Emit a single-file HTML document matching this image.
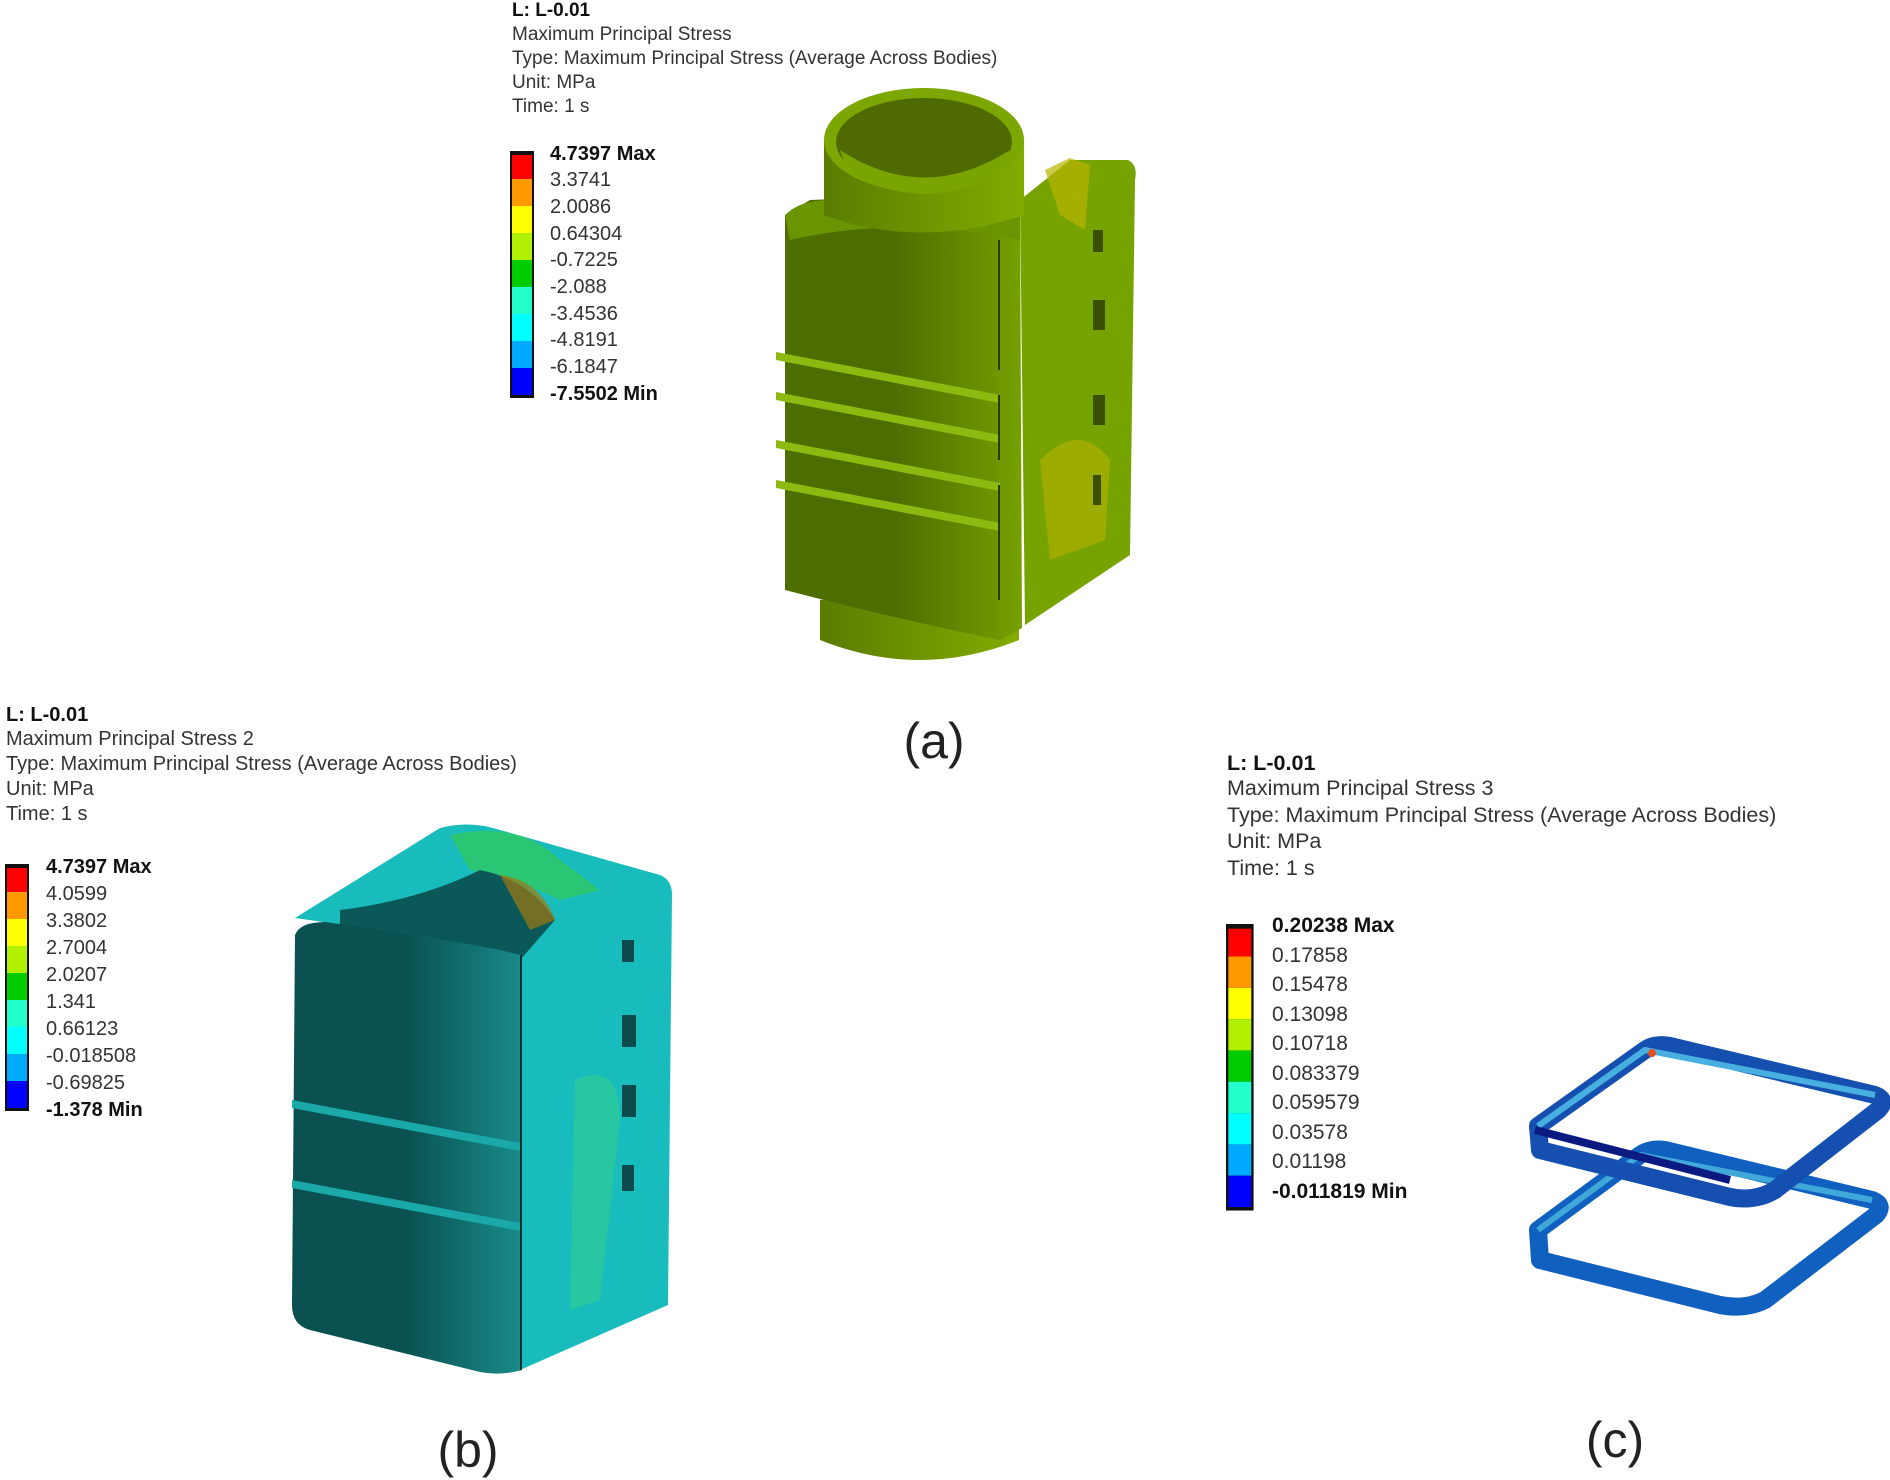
<!DOCTYPE html>
<html><head><meta charset="utf-8"><style>
html,body{margin:0;padding:0;background:#fff;}
svg{display:block;}
text{font-family:"Liberation Sans",sans-serif;fill:#333;}
.ta{font-size:19px;}
.tb{font-size:20px;}
.tc{font-size:21.5px;}
.b{font-weight:bold;fill:#111;}
.lab{font-size:50px;fill:#222;}
</style></head><body>
<svg width="1890" height="1480" viewBox="0 0 1890 1480" xmlns="http://www.w3.org/2000/svg">
<defs>
<linearGradient id="ga" x1="0" x2="1"><stop offset="0" stop-color="#4f6e00"/><stop offset="0.45" stop-color="#4e6c00"/><stop offset="1" stop-color="#76a000"/></linearGradient>
<linearGradient id="gb" x1="0" x2="1"><stop offset="0" stop-color="#0a5050"/><stop offset="0.5" stop-color="#0a5252"/><stop offset="1" stop-color="#1a8a8a"/></linearGradient>
<linearGradient id="gc" x1="0" x2="1"><stop offset="0" stop-color="#5a7c00"/><stop offset="1" stop-color="#82ac00"/></linearGradient>
<g id="bar">
<rect x="0" y="0" width="24" height="247" fill="#111"/>
<rect x="2" y="4" width="20" height="24" fill="#f00"/>
<rect x="2" y="28" width="20" height="27" fill="#f90"/>
<rect x="2" y="55" width="20" height="27" fill="#ff0"/>
<rect x="2" y="82" width="20" height="27" fill="#b0f000"/>
<rect x="2" y="109" width="20" height="27" fill="#0c0"/>
<rect x="2" y="136" width="20" height="27" fill="#2fc"/>
<rect x="2" y="163" width="20" height="27" fill="#0ff"/>
<rect x="2" y="190" width="20" height="27" fill="#0af"/>
<rect x="2" y="217" width="20" height="27" fill="#00f"/>
</g>
</defs>

<!-- (a) text -->
<g class="ta">
<text x="512" y="16" class="b">L: L-0.01</text>
<text x="512" y="40">Maximum Principal Stress</text>
<text x="512" y="64">Type: Maximum Principal Stress (Average Across Bodies)</text>
<text x="512" y="88">Unit: MPa</text>
<text x="512" y="112">Time: 1 s</text>
</g>
<use href="#bar" x="510" y="151"/>
<g style="font-size:20px">
<text x="550" y="160" class="b">4.7397 Max</text>
<text x="550" y="186">3.3741</text>
<text x="550" y="213">2.0086</text>
<text x="550" y="240">0.64304</text>
<text x="550" y="266">-0.7225</text>
<text x="550" y="293">-2.088</text>
<text x="550" y="320">-3.4536</text>
<text x="550" y="346">-4.8191</text>
<text x="550" y="373">-6.1847</text>
<text x="550" y="400" class="b">-7.5502 Min</text>
</g>
<!-- (a) object -->
<path d="M1020,200 L1070,160 L1128,160 Q1138,165 1135,180 L1130,555 L1025,625 Z" fill="#76a300"/>
<path d="M1045,170 L1070,158 L1090,165 L1085,230 L1060,215 Z" fill="#b8b300" opacity="0.7"/>
<path d="M1040,460 Q1080,420 1110,460 L1105,540 L1050,560 Z" fill="#b8b300" opacity="0.6"/>
<rect x="1093" y="230" width="10" height="22" fill="#3a5000"/>
<rect x="1093" y="300" width="12" height="30" fill="#3a5000"/>
<rect x="1093" y="395" width="12" height="30" fill="#3a5000"/>
<rect x="1093" y="475" width="8" height="30" fill="#3a5000"/>
<path d="M820,600 L820,640 Q920,680 1019,640 L1019,590 Z" fill="url(#gc)"/>
<path d="M785,215 L810,200 Q900,195 1000,210 L1020,210 L1022,628 L1000,640 Q900,620 785,590 Z" fill="url(#ga)"/>
<path d="M785,215 Q800,200 830,200 L1020,210 L1020,240 Q900,215 790,240 Z" fill="#6a9400"/>
<path d="M824,140 L824,215 Q920,250 1024,215 L1024,140 Z" fill="url(#gc)"/>
<ellipse cx="924" cy="140" rx="100" ry="52" fill="#7ca600"/>
<ellipse cx="924" cy="142" rx="88" ry="44" fill="#4e6a00"/>
<path d="M840,150 Q924,205 1010,150 Q1000,190 924,194 Q850,190 840,150 Z" fill="#7aa400"/>
<path d="M776,352 L1000,395 L1000,403 L776,360 Z" fill="#8cba10"/>
<path d="M776,392 L1000,435 L1000,443 L776,400 Z" fill="#8cba10"/>
<path d="M776,440 L1000,483 L1000,491 L776,448 Z" fill="#8cba10"/>
<path d="M776,480 L1000,523 L1000,531 L776,488 Z" fill="#8cba10"/>
<line x1="999" y1="240" x2="999" y2="370" stroke="#2a3a00" stroke-width="2"/>
<line x1="999" y1="395" x2="999" y2="460" stroke="#2a3a00" stroke-width="2"/>
<line x1="999" y1="485" x2="999" y2="600" stroke="#2a3a00" stroke-width="2"/>
<text x="934" y="758" class="lab" text-anchor="middle">(a)</text>

<!-- (b) text -->
<g class="tb">
<text x="6" y="721" class="b">L: L-0.01</text>
<text x="6" y="745">Maximum Principal Stress 2</text>
<text x="6" y="770">Type: Maximum Principal Stress (Average Across Bodies)</text>
<text x="6" y="795">Unit: MPa</text>
<text x="6" y="820">Time: 1 s</text>
</g>
<use href="#bar" x="5" y="864"/>
<g style="font-size:20px">
<text x="46" y="873" class="b">4.7397 Max</text>
<text x="46" y="900">4.0599</text>
<text x="46" y="927">3.3802</text>
<text x="46" y="954">2.7004</text>
<text x="46" y="981">2.0207</text>
<text x="46" y="1008">1.341</text>
<text x="46" y="1035">0.66123</text>
<text x="46" y="1062">-0.018508</text>
<text x="46" y="1089">-0.69825</text>
<text x="46" y="1116" class="b">-1.378 Min</text>
</g>
<!-- (b) object -->
<path d="M295,918 L440,828 Q470,820 500,830 L660,875 Q672,880 672,895 L668,1305 L520,1370 L520,950 Z" fill="#19bcbc"/>
<path d="M450,835 Q520,820 560,860 L600,890 L560,900 Q520,880 470,870 Z" fill="#2fc860" opacity="0.8"/>
<path d="M575,1080 Q620,1060 620,1120 L600,1300 L570,1310 Z" fill="#2fcf90" opacity="0.6"/>
<path d="M340,910 Q420,900 480,870 Q530,880 555,920 L520,960 Q420,940 340,935 Z" fill="#0b5858"/>
<path d="M500,875 Q540,880 555,920 L530,930 Z" fill="#a07a10" opacity="0.7"/>
<rect x="622" y="940" width="12" height="22" fill="#0b4a4a"/>
<rect x="622" y="1015" width="14" height="32" fill="#0b4a4a"/>
<rect x="622" y="1085" width="14" height="32" fill="#0b4a4a"/>
<rect x="622" y="1165" width="12" height="26" fill="#0b4a4a"/>
<path d="M295,935 Q300,922 325,922 Q420,935 500,950 L520,955 L522,1370 Q500,1376 480,1372 L310,1330 Q292,1325 292,1305 Z" fill="url(#gb)"/>
<path d="M292,1100 L520,1143 L520,1151 L292,1108 Z" fill="#1aa8a8"/>
<path d="M292,1180 L520,1223 L520,1231 L292,1188 Z" fill="#1aa8a8"/>
<line x1="521" y1="955" x2="521" y2="1370" stroke="#053030" stroke-width="2"/>
<text x="468" y="1467" class="lab" text-anchor="middle">(b)</text>

<!-- (c) text -->
<g class="tc">
<text x="1227" y="770" class="b">L: L-0.01</text>
<text x="1227" y="795">Maximum Principal Stress 3</text>
<text x="1227" y="822">Type: Maximum Principal Stress (Average Across Bodies)</text>
<text x="1227" y="848">Unit: MPa</text>
<text x="1227" y="875">Time: 1 s</text>
</g>
<g transform="translate(1226,924) scale(1.15,1.16)"><use href="#bar" x="0" y="0"/></g>
<g style="font-size:21px">
<text x="1272" y="932" class="b">0.20238 Max</text>
<text x="1272" y="962">0.17858</text>
<text x="1272" y="991">0.15478</text>
<text x="1272" y="1021">0.13098</text>
<text x="1272" y="1050">0.10718</text>
<text x="1272" y="1080">0.083379</text>
<text x="1272" y="1109">0.059579</text>
<text x="1272" y="1139">0.03578</text>
<text x="1272" y="1168">0.01198</text>
<text x="1272" y="1198" class="b">-0.011819 Min</text>
</g>
<!-- (c) rings -->
<g fill="none" stroke-linejoin="round">
<path d="M1538,1230 L1640,1155 Q1650,1148 1665,1150 L1872,1200 Q1885,1205 1876,1215 L1765,1300 Q1745,1310 1720,1305 L1540,1260 Z" stroke="#1060c0" stroke-width="18"/>
<path d="M1538,1230 L1640,1155 L1872,1200" stroke="#40a8d8" stroke-width="6"/>
<path d="M1538,1126 L1645,1050 Q1655,1043 1670,1046 L1875,1095 Q1888,1100 1878,1110 L1775,1190 Q1755,1202 1730,1197 L1540,1150 Z" stroke="#1550b0" stroke-width="18"/>
<path d="M1538,1126 L1645,1050 L1875,1095" stroke="#48b0e0" stroke-width="6"/>
<path d="M1535,1130 L1730,1180" stroke="#0a1a80" stroke-width="8"/>
</g>
<circle cx="1652" cy="1053" r="4" fill="#e05020"/>
<text x="1615" y="1457" class="lab" text-anchor="middle">(c)</text>
</svg>
</body></html>
